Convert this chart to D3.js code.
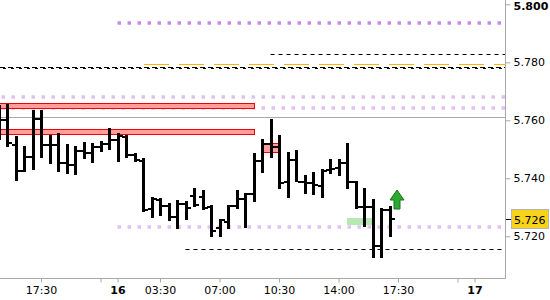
<!DOCTYPE html>
<html>
<head>
<meta charset="utf-8">
<script src="https://cdn.jsdelivr.net/npm/d3@7"></script>
<style>
  body { margin: 0; background: #fff; }
  text { font-family: "DejaVu Sans", sans-serif; font-size: 11px; fill: #000; }
</style>
</head>
<body>
<div id="chart"></div>
<script>
// 30 minute bars, day + time
var times = ["15 15:00","15 15:30","15 16:00","15 16:30","15 17:00","15 17:30","15 18:00","15 18:30","15 19:00","15 19:30",
  "15 20:00","15 20:30","15 21:00","15 21:30","16 01:00","16 01:30","16 02:00","16 02:30","16 03:00","16 03:30",
  "16 04:00","16 04:30","16 05:00","16 05:30","16 06:00","16 06:30","16 07:00","16 07:30","16 08:00","16 08:30",
  "16 09:00","16 09:30","16 10:00","16 10:30","16 11:00","16 11:30","16 12:00","16 12:30","16 13:00","16 13:30",
  "16 14:00","16 14:30","16 15:00","16 15:30","16 16:00","16 16:30","16 17:00"];
var opens  = [5.7618,5.7601,5.7515,5.7425,5.7472,5.7604,5.7515,5.7515,5.7453,5.7446,
  5.7494,5.7487,5.7508,5.7518,5.7532,5.7542,5.7480,5.7460,5.7294,5.7325,
  5.7304,5.7267,5.7311,5.7339,5.7336,5.7301,5.7229,5.7249,5.7304,5.7329,
  5.7346,5.7460,5.7518,5.7508,5.7387,5.7463,5.7387,5.7384,5.7373,5.7429,
  5.7436,5.7453,5.7387,5.7302,5.7302,5.7167,5.7291];
var highs  = [5.7653,5.7655,5.7546,5.7511,5.7636,5.7636,5.7549,5.7556,5.7518,5.7511,
  5.7525,5.7520,5.7529,5.7572,5.7555,5.7549,5.7487,5.7470,5.7334,5.7332,
  5.7315,5.7325,5.7320,5.7367,5.7360,5.7308,5.7261,5.7308,5.7360,5.7349,
  5.7488,5.7534,5.7603,5.7549,5.7491,5.7498,5.7411,5.7420,5.7432,5.7467,
  5.7467,5.7521,5.7390,5.7366,5.7328,5.7297,5.7306];
var lows   = [5.7532,5.7509,5.7389,5.7422,5.7429,5.7469,5.7449,5.7420,5.7415,5.7411,
  5.7468,5.7452,5.7491,5.7499,5.7457,5.7469,5.7456,5.7284,5.7262,5.7270,
  5.7253,5.7225,5.7256,5.7301,5.7292,5.7199,5.7199,5.7225,5.7294,5.7229,
  5.7319,5.7419,5.7469,5.7363,5.7331,5.7386,5.7346,5.7342,5.7331,5.7415,
  5.7408,5.7363,5.7294,5.7232,5.7124,5.7124,5.7199];
var closes = [5.7601,5.7523,5.7425,5.7472,5.7604,5.7515,5.7515,5.7453,5.7446,5.7494,
  5.7487,5.7508,5.7518,5.7532,5.7546,5.7480,5.7463,5.7291,5.7329,5.7304,
  5.7267,5.7311,5.7298,5.7308,5.7298,5.7218,5.7256,5.7304,5.7329,5.7346,
  5.7460,5.7518,5.7508,5.7384,5.7463,5.7387,5.7384,5.7377,5.7425,5.7432,
  5.7453,5.7388,5.7302,5.7302,5.7167,5.7289,5.7260];
var futureSlots = ["16 17:30","16 18:00","16 18:30","16 19:00","16 19:30","16 20:00","16 20:30","16 21:00","16 21:30",
  "17 01:00","17 01:30","17 02:00","17 02:30"];

var tickSlots  = ["15 17:30","15 21:00","16 01:00","16 03:30","16 07:00","16 10:30","16 14:00","16 17:30","16 21:00","17 01:00"];
var tickLabels = ["17:30","","16","03:30","07:00","10:30","14:00","17:30","","17"];
var priceTicks = [5.800, 5.780, 5.760, 5.740, 5.720];
var lastPrice = 5.726;

// horizontal levels
var dotLevels = [5.7936, 5.7681, 5.7641, 5.7233];
var dotStart  = ["16 01:00", null, null, "16 01:00"];
var dotColors = ["#c98ce6", "#dfc2f2", "#dfc2f2", "#dfc2f2"];
var dashLevels = [5.7829, 5.7155];
var dashStart  = ["16 10:00", "16 05:00"];
var doubleDashLevel = 5.7780;
var orangeLevel = 5.7793, orangeStart = "16 02:30";
var grayLevel = 5.7610;

// zones
var zoneTop    = [5.7659, 5.7569, 5.7521];
var zoneBottom = [5.7641, 5.7552, 5.7490];
var zoneFrom   = [null, null, "16 09:30"];
var zoneTo     = ["16 09:00", "16 09:00", "16 10:30"];
var greenTop = 5.7264, greenBottom = 5.7239, greenFrom = "16 14:30", greenTo = "16 16:00";
var arrowSlot = "16 17:00", arrowTip = 5.7360, arrowBase = 5.7294;

var width = 550, height = 300, plotW = 505, plotH = 278;

var svg = d3.select("#chart").append("svg")
  .attr("width", width)
  .attr("height", height);

svg.append("clipPath").attr("id", "clip")
  .append("rect").attr("width", plotW).attr("height", plotH);

var slots = times.concat(futureSlots);
var x = d3.scalePoint().domain(slots).range([-1.5, -1.5 + 8.5 * (slots.length - 1)]);
var y = d3.scaleLinear().domain([5.7056, 5.8015]).range([plotH, 0]);
var py = function(v) { return Math.round(y(v)) + 0.5; };

var plot = svg.append("g").attr("clip-path", "url(#clip)");

// dotted levels
dotLevels.forEach(function(v, i) {
  var x0 = dotStart[i] ? x(dotStart[i]) : 1.5;
  plot.append("line")
    .attr("x1", x0).attr("x2", plotW)
    .attr("y1", Math.round(y(v))).attr("y2", Math.round(y(v)))
    .attr("stroke", dotColors[i])
    .attr("stroke-width", 3.5)
    .attr("stroke-dasharray", "3.5,6.5");
});

// orange level
plot.append("line")
  .attr("x1", x(orangeStart) + 1).attr("x2", plotW)
  .attr("y1", py(orangeLevel)).attr("y2", py(orangeLevel))
  .attr("stroke", "#ffb300")
  .attr("stroke-dasharray", "25,10");

// black dashed levels
dashLevels.forEach(function(v, i) {
  plot.append("line")
    .attr("x1", x(dashStart[i])).attr("x2", plotW)
    .attr("y1", py(v)).attr("y2", py(v))
    .attr("stroke", "#000")
    .attr("stroke-dasharray", "4,4");
});
plot.append("line")
  .attr("x1", 0).attr("x2", plotW)
  .attr("y1", py(doubleDashLevel) - 1).attr("y2", py(doubleDashLevel) - 1)
  .attr("stroke", "#000").attr("stroke-dasharray", "5,3");
plot.append("line")
  .attr("x1", 0).attr("x2", plotW)
  .attr("y1", py(doubleDashLevel)).attr("y2", py(doubleDashLevel))
  .attr("stroke", "#000").attr("stroke-dasharray", "3,5").attr("stroke-dashoffset", -3);

// gray line
plot.append("line")
  .attr("x1", 0).attr("x2", plotW)
  .attr("y1", py(grayLevel)).attr("y2", py(grayLevel))
  .attr("stroke", "#a8a8a8");

// red zones
zoneTop.forEach(function(v, i) {
  var x0 = zoneFrom[i] ? Math.round(x(zoneFrom[i])) + 0.5 : -2;
  var x1 = Math.round(x(zoneTo[i])) + 0.5;
  plot.append("rect")
    .attr("x", x0).attr("y", py(v))
    .attr("width", x1 - x0).attr("height", py(zoneBottom[i]) - py(v))
    .attr("fill", "#ff9c9c")
    .attr("stroke", "#f00000");
});

// green zone
plot.append("rect")
  .attr("x", Math.round(x(greenFrom)))
  .attr("y", Math.round(y(greenTop)))
  .attr("width", Math.round(x(greenTo)) - Math.round(x(greenFrom)))
  .attr("height", Math.round(y(greenBottom)) - Math.round(y(greenTop)))
  .attr("fill", "#b6e8b2");

// bars
var bars = plot.append("g").selectAll("g")
  .data(times)
  .enter()
  .append("g");
bars.append("rect")
  .attr("x", function(d) { return Math.round(x(d)) - 1; })
  .attr("y", function(d, i) { return Math.round(y(highs[i])); })
  .attr("width", 3)
  .attr("height", function(d, i) { return Math.max(1, Math.round(y(lows[i])) - Math.round(y(highs[i]))); })
  .attr("fill", "#000");
bars.append("rect")
  .attr("x", function(d) { return Math.round(x(d)) - 4; })
  .attr("y", function(d, i) { return Math.round(y(opens[i])) - 1; })
  .attr("width", 3).attr("height", 2)
  .attr("fill", "#000");
bars.append("rect")
  .attr("x", function(d) { return Math.round(x(d)) + 2; })
  .attr("y", function(d, i) { return Math.round(y(closes[i])) - 1; })
  .attr("width", 3).attr("height", 2)
  .attr("fill", "#000");

// up arrow
var ax = Math.round(x(arrowSlot)) + 7, at = Math.round(y(arrowTip)), ab = Math.round(y(arrowBase));
var headH = Math.round((ab - at) * 0.5);
plot.append("path")
  .attr("d", "M" + ax + "," + at +
    "L" + (ax + 7) + "," + (at + headH) +
    "L" + (ax + 3) + "," + (at + headH) +
    "L" + (ax + 3) + "," + ab +
    "L" + (ax - 3) + "," + ab +
    "L" + (ax - 3) + "," + (at + headH) +
    "L" + (ax - 7) + "," + (at + headH) + "Z")
  .attr("fill", "#2ea82e")
  .attr("stroke", "#17751a")
  .attr("stroke-width", 1);

// axis frame
svg.append("line").attr("x1", plotW + 0.5).attr("x2", plotW + 0.5)
  .attr("y1", 0).attr("y2", plotH + 0.5).attr("stroke", "#a8a8a8");
svg.append("line").attr("x1", 0).attr("x2", plotW + 1)
  .attr("y1", plotH + 0.5).attr("y2", plotH + 0.5).attr("stroke", "#a8a8a8");

// y axis
var yAxis = svg.append("g")
  .attr("transform", "translate(" + (plotW + 0.5) + ",0)")
  .call(d3.axisRight(y).tickValues(priceTicks).tickSize(5).tickPadding(3)
    .tickFormat(d3.format(".3f")));
yAxis.select(".domain").remove();
yAxis.selectAll(".tick line").attr("stroke", "#a8a8a8");
yAxis.selectAll(".tick text")
  .style("font-family", "DejaVu Sans").style("font-size", "11px")
  .style("font-weight", function(d) { return d === 5.800 ? "bold" : "normal"; })
  .attr("y", function(d) { return d === 5.800 ? 1.5 : 0; });

// current price box
var ly = Math.round(y(lastPrice));
svg.append("line").attr("x1", plotW + 1).attr("x2", plotW + 6)
  .attr("y1", ly + 0.5).attr("y2", ly + 0.5).attr("stroke", "#000");
svg.append("rect")
  .attr("x", 511.5).attr("y", ly - 9.5)
  .attr("width", 37).attr("height", 19)
  .attr("fill", "#f7d31a").attr("stroke", "#b4b4b4");
svg.append("text")
  .attr("x", 514).attr("y", ly + 4.5)
  .text(d3.format(".3f")(lastPrice));

// x axis
var xAxis = svg.append("g")
  .attr("transform", "translate(0," + (plotH + 0.5) + ")")
  .call(d3.axisBottom(x).tickValues(tickSlots).tickSize(4).tickPadding(4)
    .tickFormat(function(d, i) { return tickLabels[i]; }));
xAxis.select(".domain").remove();
xAxis.selectAll(".tick line").attr("stroke", "#a8a8a8");
xAxis.selectAll(".tick text")
  .style("font-family", "DejaVu Sans").style("font-size", "11px")
  .style("font-weight", function(d, i) { return tickLabels[i].length === 2 ? "bold" : "normal"; });
</script>
</body>
</html>
